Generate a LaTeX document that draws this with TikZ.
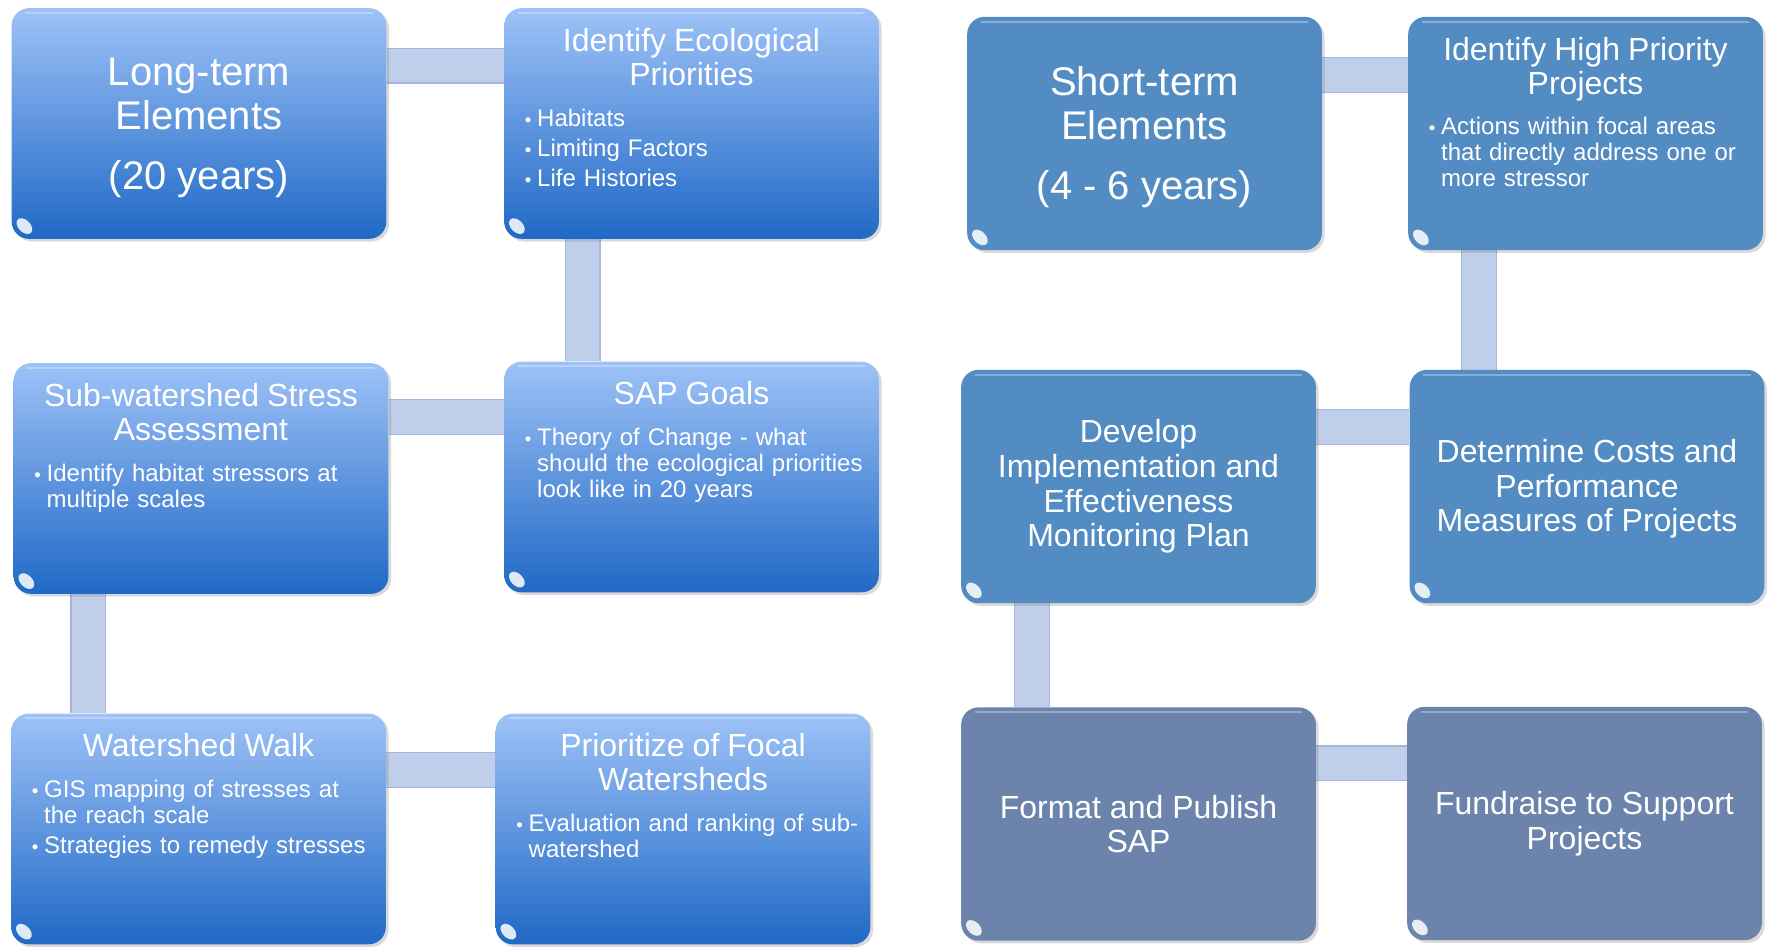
\documentclass[tikz,border=0pt]{standalone}
\usepackage{fontspec}
\setmainfont{Liberation Sans}
\usetikzlibrary{positioning,calc,shadows,backgrounds}

\definecolor{lefttop}{HTML}{9EC2F7}
\definecolor{leftbot}{HTML}{2069C6}
\definecolor{rightblue}{HTML}{528CC2}
\definecolor{greyblue}{HTML}{6C84AC}
\definecolor{linkfill}{HTML}{BFCFEB}
\definecolor{linkedge}{HTML}{A6B6D6}

\newcommand{\tilehead}[1]{{\centering\fontsize{24}{25.5}\selectfont #1\par}\vspace{8pt}}
\newcommand{\bitem}[1]{\leftskip=12.5pt\hangindent=9.25pt\hangafter=1\noindent
  \makebox[9.25pt][l]{\fontsize{14}{14}\selectfont\textbullet}#1\par}

\tikzset{
  tile/.style={rectangle, rounded corners=13pt, inner sep=0pt, text=white, align=center,
    drop shadow={opacity=.3, shadow xshift=2pt, shadow yshift=-2pt}},
  longtile/.style={tile, minimum width=281pt, minimum height=173pt,
    top color=lefttop, bottom color=leftbot},
  shorttile/.style={tile, minimum width=266pt, minimum height=175pt, fill=rightblue},
  lasttile/.style={shorttile, fill=greyblue},
  bigtext/.style={font=\fontsize{30}{33}\selectfont},
  midtext/.style={font=\fontsize{24}{26}\selectfont},
  listtext/.style={text=white, inner sep=0pt, text width=#1, align=left,
    font=\fontsize{18}{19.5}\selectfont\setlength{\parskip}{3pt}},
  link/.style={line width=25pt, draw=linkfill, preaction={draw=linkedge, line width=27pt}}
}

\begin{document}
\begin{tikzpicture}[x=0.75pt, y=-0.75pt]
\useasboundingbox (0,0) rectangle (1769,946);

% long-term elements
\node[longtile, bigtext] (lt) at (199,123.5) {\rule{0pt}{27pt}Long-term\\Elements\\[12pt](20 years)};
\node[longtile] (iep) at (691.5,123.5) {};
\node[longtile] (sws) at (201,478.5) {};
\node[longtile] (sapg) at (691.5,477) {};
\node[longtile] (ww) at (198.5,829) {};
\node[longtile] (pfw) at (683,829) {};

% short-term elements
\node[shorttile, bigtext] (st) at (1144.5,133.5) {\rule{0pt}{27pt}Short-term\\Elements\\[12pt](4 - 6 years)};
\node[shorttile] (ihpp) at (1585.5,133.5) {};
\node[shorttile, midtext] (diem) at (1138.5,486.5) {Develop\\Implementation and\\Effectiveness\\Monitoring Plan};
\node[shorttile, midtext] (dcpm) at (1587,486.5) {\rule{0pt}{21pt}Determine Costs and\\Performance\\Measures of Projects};
\node[lasttile, midtext] (fps) at (1138.5,824) {Format and Publish\\SAP};
\node[lasttile, midtext] (fsp) at (1584.5,823.5) {Fundraise to Support\\Projects};

% gloss
\foreach \b in {lt,iep,sws,sapg,ww,pfw,st,ihpp,diem,dcpm,fps,fsp}{
  \coordinate (\b-gl) at ($(\b.south west)+(13,-13)$);
  \fill[white, opacity=.85, rotate around={-45:(\b-gl)}] (\b-gl) ellipse (7pt and 4.5pt);
  \draw[white, opacity=.3, line width=1.5pt] ($(\b.north west)+(14,5)$) -- ($(\b.north east)+(-14,5)$);
}

% texts with bullets
\node[listtext=275pt, below=15pt of iep.north] (iepT) {\tilehead{Identify Ecological\\Priorities}%
  \bitem{Habitats}\bitem{Limiting Factors}\bitem{Life Histories}};
\node[listtext=275pt, below=15pt of sws.north] (swsT) {\tilehead{Sub-watershed Stress\\Assessment}%
  \bitem{Identify habitat stressors at\newline multiple scales}};
\node[listtext=275pt, below=15pt of sapg.north] (sapgT) {\tilehead{SAP Goals}%
  \bitem{Theory of Change - what\newline should the ecological priorities\newline look like in 20 years}};
\node[listtext=275pt, below=15pt of ww.north] (wwT) {\tilehead{Watershed Walk}%
  \bitem{GIS mapping of stresses at\newline the reach scale}\bitem{Strategies to remedy stresses}};
\node[listtext=275pt, below=15pt of pfw.north] (pfwT) {\tilehead{Prioritize of Focal\\Watersheds}%
  \bitem{Evaluation and ranking of sub-\newline watershed}};
\node[listtext=260pt, below=15pt of ihpp.north] (ihppT) {\tilehead{Identify High Priority\\Projects}%
  \bitem{Actions within focal areas\newline that directly address one or\newline more stressor}};

% connectors
\begin{scope}[on background layer]
  \draw[link] ($(lt.north east)!.25!(lt.south east)$) coordinate (c1) -- (c1 -| iep.west);
  \draw[link] ($(iep.south west)!.21!(iep.south east)$) coordinate (c2) -- (c2 |- sapg.north);
  \draw[link] ($(sapg.north west)!.24!(sapg.south west)$) coordinate (c3) -- (c3 -| sws.east);
  \draw[link] ($(sws.south west)!.2!(sws.south east)$) coordinate (c4) -- (c4 |- ww.north);
  \draw[link] ($(ww.north east)!.245!(ww.south east)$) coordinate (c5) -- (c5 -| pfw.west);
  \draw[link] ($(st.north east)!.25!(st.south east)$) coordinate (c6) -- (c6 -| ihpp.west);
  \draw[link] ($(ihpp.south west)!.2!(ihpp.south east)$) coordinate (c7) -- (c7 |- dcpm.north);
  \draw[link] ($(dcpm.north west)!.245!(dcpm.south west)$) coordinate (c8) -- (c8 -| diem.east);
  \draw[link] ($(diem.south west)!.2!(diem.south east)$) coordinate (c9) -- (c9 |- fps.north);
  \draw[link] ($(fps.north east)!.24!(fps.south east)$) coordinate (c10) -- (c10 -| fsp.west);
\end{scope}
\end{tikzpicture}
\end{document}
